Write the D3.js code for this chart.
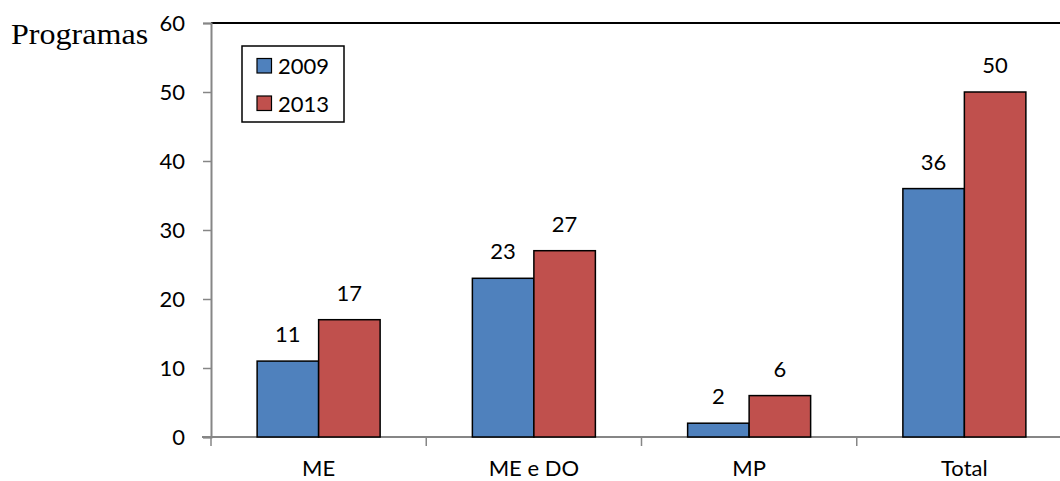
<!DOCTYPE html>
<html>
<head>
<meta charset="utf-8">
<script src="https://cdn.jsdelivr.net/npm/d3@7"></script>
<style>
  html, body { margin: 0; padding: 0; background: #fff; }
  svg { display: block; }
</style>
</head>
<body>
<svg id="chart" width="1060" height="481"></svg>
<script>
// Data
const categories = ["ME", "ME e DO", "MP", "Total"];
const seriesNames = ["2009", "2013"];
const values2009 = [11, 23, 2, 36];
const values2013 = [17, 27, 6, 50];
const yTicks = [0, 10, 20, 30, 40, 50, 60];
const colors = ["#4F81BD", "#C0504D"];

const svg = d3.select("#chart");
const plotLeft = 211, plotTop = 23, plotBottom = 437;
const plotW = 861; // plot area continues past the right edge of the canvas

const x = d3.scaleBand().domain(categories).range([plotLeft, plotLeft + plotW]).paddingInner(0).paddingOuter(0);
const inner = d3.scaleBand().domain(seriesNames).range([0, x.bandwidth()]).paddingInner(0).paddingOuter(0.75);
const y = d3.scaleLinear().domain([0, 60]).range([plotBottom, plotTop]);

const labelFont = "Lato, 'Open Sans', sans-serif";
const labelSize = 22;

// Top border of the plot area
svg.append("line")
  .attr("x1", plotLeft).attr("x2", 1060)
  .attr("y1", plotTop).attr("y2", plotTop)
  .attr("stroke", "#000").attr("stroke-width", 2);

// Y axis
const yAxis = svg.append("g")
  .attr("transform", `translate(${plotLeft},0)`)
  .call(d3.axisLeft(y).tickValues(yTicks).tickSize(8).tickPadding(18));
yAxis.select(".domain").attr("stroke", "#868686").attr("stroke-width", 2);
yAxis.selectAll(".tick line").attr("stroke", "#868686").attr("stroke-width", 1.5);
yAxis.selectAll(".tick text")
  .attr("font-family", labelFont).attr("font-size", labelSize).attr("fill", "#000");

// X axis
const bounds = d3.range(categories.length + 1).map(i => plotLeft + i * x.step());
const xg = svg.append("g");
xg.append("line")
  .attr("x1", plotLeft - 9).attr("x2", plotLeft + plotW)
  .attr("y1", plotBottom).attr("y2", plotBottom)
  .attr("stroke", "#868686").attr("stroke-width", 2);
xg.selectAll("line.tk").data(bounds).join("line")
  .attr("class", "tk")
  .attr("x1", d => d).attr("x2", d => d)
  .attr("y1", plotBottom).attr("y2", plotBottom + 9)
  .attr("stroke", "#868686").attr("stroke-width", 1.5);
xg.selectAll("text").data(categories).join("text")
  .attr("x", d => x(d) + x.bandwidth() / 2)
  .attr("y", 476)
  .attr("text-anchor", "middle")
  .attr("font-family", labelFont).attr("font-size", labelSize)
  .text(d => d);

// Bars
const rows = categories.map((c, i) => ({ cat: c, vals: [values2009[i], values2013[i]] }));
const groups = svg.append("g").selectAll("g").data(rows).join("g")
  .attr("transform", d => `translate(${x(d.cat)},0)`);
groups.selectAll("rect").data(d => d.vals.map((v, j) => ({ s: seriesNames[j], v, j }))).join("rect")
  .attr("x", d => inner(d.s))
  .attr("width", inner.bandwidth())
  .attr("y", d => y(d.v))
  .attr("height", d => y(0) - y(d.v))
  .attr("fill", d => colors[d.j])
  .attr("stroke", "#000").attr("stroke-width", 1.5);
groups.selectAll("text").data(d => d.vals.map((v, j) => ({ s: seriesNames[j], v, j }))).join("text")
  .attr("x", d => inner(d.s) + inner.bandwidth() / 2)
  .attr("y", d => y(d.v) - 19)
  .attr("text-anchor", "middle")
  .attr("font-family", labelFont).attr("font-size", labelSize)
  .text(d => d.v);

// Axis title
svg.append("text")
  .attr("transform", "translate(11,44) scale(1.07,1)")
  .attr("font-family", "'Times New Roman', 'Liberation Serif', serif")
  .attr("font-size", 30)
  .text("Programas");

// Legend
const lg = svg.append("g");
lg.append("rect")
  .attr("x", 242).attr("y", 46).attr("width", 102).attr("height", 76)
  .attr("fill", "#fff").attr("stroke", "#000").attr("stroke-width", 1.5);
seriesNames.forEach((s, i) => {
  lg.append("rect")
    .attr("x", 257).attr("y", 58.5 + i * 37.5).attr("width", 14.5).attr("height", 14.5)
    .attr("fill", colors[i]).attr("stroke", "#000").attr("stroke-width", 1.2);
  lg.append("text")
    .attr("x", 278).attr("y", 74 + i * 37.5)
    .attr("font-family", labelFont).attr("font-size", labelSize)
    .text(s);
});
</script>
</body>
</html>
